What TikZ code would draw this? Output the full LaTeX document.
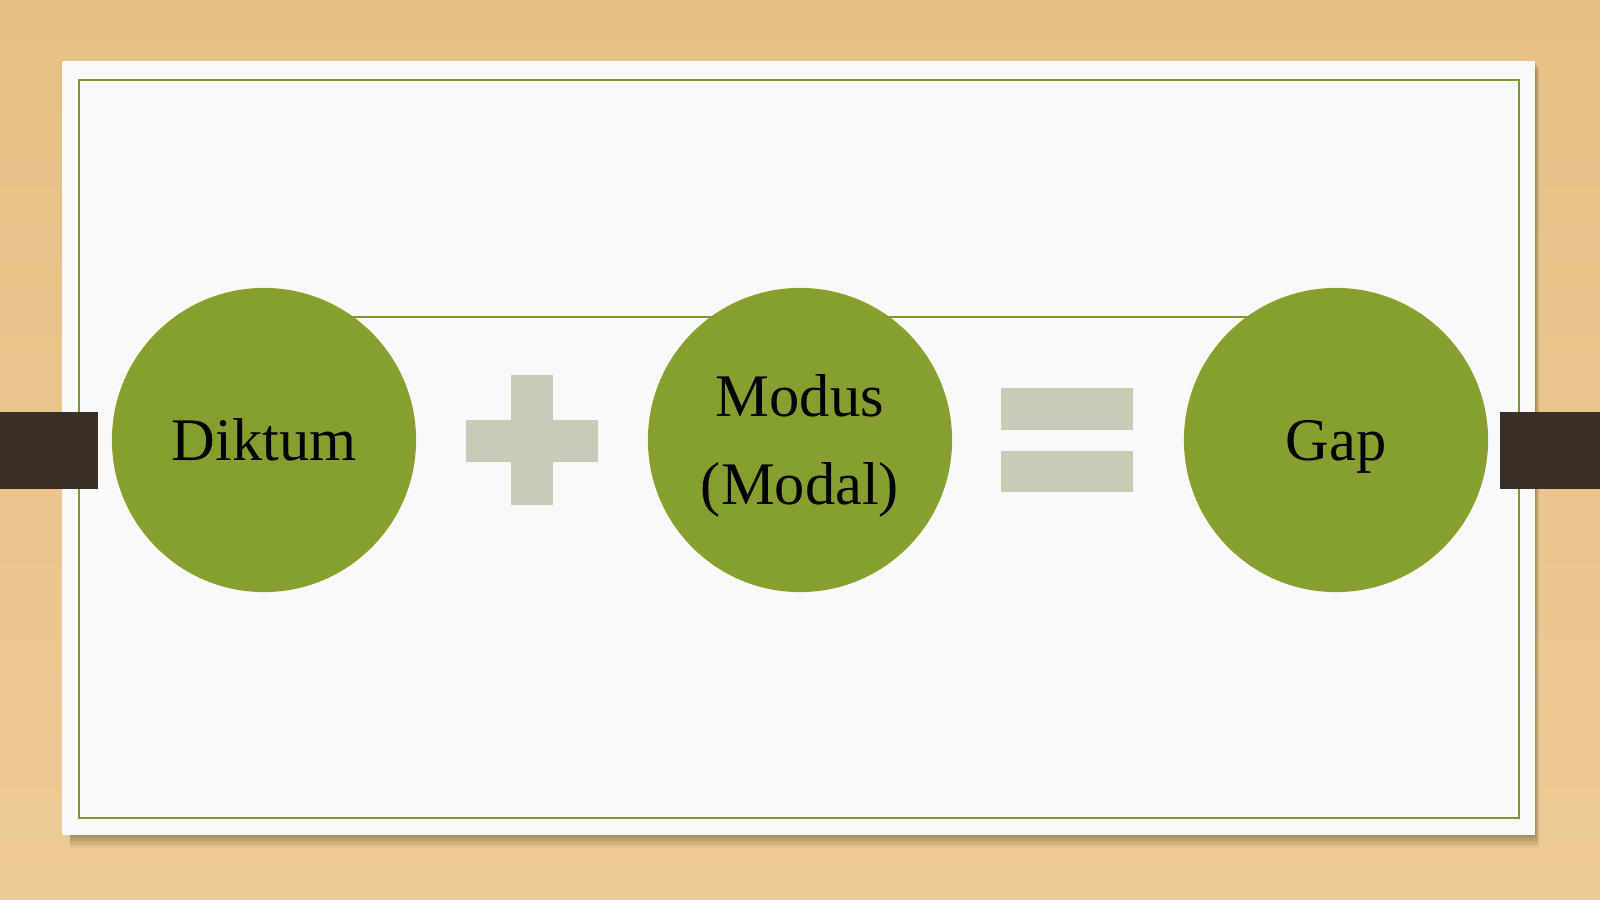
\documentclass[tikz,border=0pt]{standalone}
\usepackage{fontspec}
\setmainfont{Liberation Serif}
\definecolor{wood}{HTML}{E6BF86}
\definecolor{woodlight}{HTML}{EDCB94}
\definecolor{card}{HTML}{F8F9F9}
\definecolor{olive}{HTML}{86A030}
\definecolor{frame}{HTML}{7C9A2C}
\definecolor{signgrey}{HTML}{C6CCB5}
\definecolor{tabbrown}{HTML}{3A2E26}

\begin{document}
\begin{tikzpicture}[x=0.01cm,y=-0.01cm,
  ball/.style={circle,fill=olive,minimum size=3.04cm,inner sep=0pt,align=center,font=\fontsize{17.2}{25}\selectfont},
  sign/.style={fill=signgrey},
  tab/.style={fill=tabbrown},
  rail/.style={frame,line width=0.6pt}]
\useasboundingbox (0,0) rectangle (1600,899);
\shade[top color=wood,bottom color=woodlight] (0,0) rectangle (1600,899);

\foreach \d in {1,...,8}
  \fill[black,opacity=0.04] (70,61+\d) rectangle (1535+\d/2,835+1.6*\d);
\fill[card] (62,61) rectangle (1535,835);
\draw[frame,line width=0.7pt] (79,80) rectangle (1519,818);

\fill[tab] (0,412) rectangle (98,489);
\fill[tab] (1500,412) rectangle (1600,489);

\coordinate (pd) at (264,440);
\coordinate (pm) at (800,440);
\coordinate (pg) at (1336,440);
\draw[rail] ([yshift=1.23cm]pd) -- ([yshift=1.23cm]pg);

\node[ball] (diktum) at (pd) {Diktum};
\node[ball] (modus) at (pm) {\rule{0pt}{0.9em}Modus\\(Modal)};
\node[ball,text depth=0pt] (gap) at (pg) {Gap};

\fill[sign] (466,420) rectangle (598,462);
\fill[sign] (511,375) rectangle (553,505);
\fill[sign] (1001,388) rectangle (1133,430);
\fill[sign] (1001,451) rectangle (1133,492);
\end{tikzpicture}
\end{document}
